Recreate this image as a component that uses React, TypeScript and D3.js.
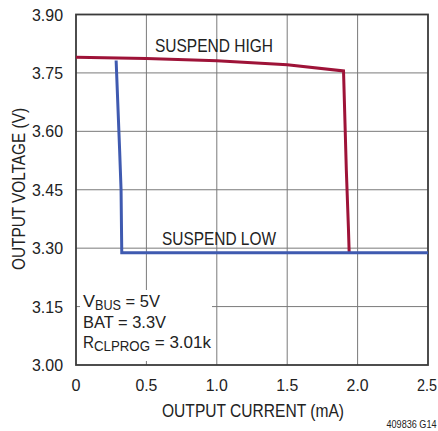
import React from "react";
import * as d3 from "d3";

const xTicks = [0, 0.5, 1.0, 1.5, 2.0, 2.5];
const xTickLabels = ["0", "0.5", "1.0", "1.5", "2.0", "2.5"];
const yTicks = [3.0, 3.15, 3.3, 3.45, 3.6, 3.75, 3.9];
const yTickLabels = ["3.00", "3.15", "3.30", "3.45", "3.60", "3.75", "3.90"];

const highCurrent = [0, 0.5, 1.0, 1.5, 1.9, 1.92, 1.935, 1.94];
const highVoltage = [3.79, 3.787, 3.781, 3.771, 3.755, 3.5, 3.35, 3.29];

const lowCurrent = [0.285, 0.31, 0.32, 0.325, 2.5];
const lowVoltage = [3.782, 3.55, 3.45, 3.288, 3.288];

const FONT = "'Liberation Sans', Arial, sans-serif";

export default function App() {
  const W = 438, H = 431;
  const left = 76, right = 428, top = 14.5, bottom = 365;
  const x = d3.scaleLinear().domain([0, 2.5]).range([left, right]);
  const y = d3.scaleLinear().domain([3.0, 3.9]).range([bottom, top]);
  const line = d3.line<[number, number]>().x(d => x(d[0])).y(d => y(d[1]));
  const highPts = highCurrent.map((c, i) => [c, highVoltage[i]] as [number, number]);
  const lowPts = lowCurrent.map((c, i) => [c, lowVoltage[i]] as [number, number]);
  const grid = "#7a7a7a";
  const boxRight = 215, boxTop = 287;
  const fill = "#222";
  const adj = "spacingAndGlyphs";
  return (
    <svg width={W} height={H} style={{ position: "absolute", left: 0, top: 0, background: "#fff" }} fontFamily={FONT}>
      {xTicks.slice(1, -1).map(t => (
        <line key={"gx" + t} x1={x(t)} x2={x(t)} y1={top} y2={bottom} stroke={grid} strokeWidth={1} />
      ))}
      {yTicks.slice(1, -1).map(t => (
        <line key={"gy" + t} x1={left} x2={right} y1={y(t)} y2={y(t)} stroke={grid} strokeWidth={1} />
      ))}
      <rect x={left} y={boxTop} width={boxRight - left} height={bottom - boxTop} fill="#fff" />
      <line x1={left} x2={left + 4} y1={y(3.15)} y2={y(3.15)} stroke={grid} />
      <line x1={boxRight - 3} x2={boxRight} y1={y(3.15)} y2={y(3.15)} stroke={grid} />
      <line x1={x(0.5)} x2={x(0.5)} y1={bottom - 4} y2={bottom} stroke={grid} />
      <line x1={x(0.5)} x2={x(0.5)} y1={boxTop} y2={boxTop + 3} stroke={grid} />
      <rect x={left} y={top} width={right - left} height={bottom - top} fill="none" stroke="#3a3a3a" strokeWidth={1.8} />
      <path d={line(highPts) || ""} fill="none" stroke="#9e1338" strokeWidth={3} strokeLinejoin="miter" />
      <path d={line(lowPts) || ""} fill="none" stroke="#3f5ab0" strokeWidth={3} strokeLinejoin="miter" />
      {yTicks.map((t, i) => (
        <text key={"yl" + t} x={63} y={y(t)} dy="0.36em" textAnchor="end" fontSize={17} fill={fill}
          textLength={31} lengthAdjust={adj}>{yTickLabels[i]}</text>
      ))}
      {xTicks.map((t, i) => (
        <text key={"xl" + t} x={i === xTicks.length - 1 ? x(t) - 1 : x(t)} y={391} textAnchor="middle" fontSize={17} fill={fill}
          textLength={i === 0 ? 9 : i === xTicks.length - 1 ? 20 : 22} lengthAdjust={adj}>{xTickLabels[i]}</text>
      ))}
      <text x={253} y={417} textAnchor="middle" fontSize={17.5} fill={fill} textLength={182} lengthAdjust={adj}>OUTPUT CURRENT (mA)</text>
      <text transform={`translate(25,189) rotate(-90)`} textAnchor="middle" fontSize={17.5} fill={fill} textLength={162} lengthAdjust={adj}>OUTPUT VOLTAGE (V)</text>
      <text x={155} y={52} fontSize={17.5} fill={fill} textLength={118} lengthAdjust={adj}>SUSPEND HIGH</text>
      <text x={162} y={245} fontSize={17.5} fill={fill} textLength={114} lengthAdjust={adj}>SUSPEND LOW</text>
      <g fontSize={17} fill={fill}>
        <text x={83} y={307}>
          <tspan textLength={12} lengthAdjust={adj}>V</tspan>
          <tspan dy={3} fontSize={14} textLength={26} lengthAdjust={adj}>BUS</tspan>
          <tspan dy={-3} textLength={39} lengthAdjust={adj}> = 5V</tspan>
        </text>
        <text x={83} y={328} textLength={83} lengthAdjust={adj}>BAT = 3.3V</text>
        <text x={83} y={348}>
          <tspan textLength={11} lengthAdjust={adj}>R</tspan>
          <tspan dy={3} fontSize={14} textLength={56} lengthAdjust={adj}>CLPROG</tspan>
          <tspan dy={-3} textLength={61} lengthAdjust={adj}> = 3.01k</tspan>
        </text>
      </g>
      <text x={436.5} y={428} textAnchor="end" fontSize={11} fill={fill} textLength={50} lengthAdjust={adj}>409836 G14</text>
    </svg>
  );
}
